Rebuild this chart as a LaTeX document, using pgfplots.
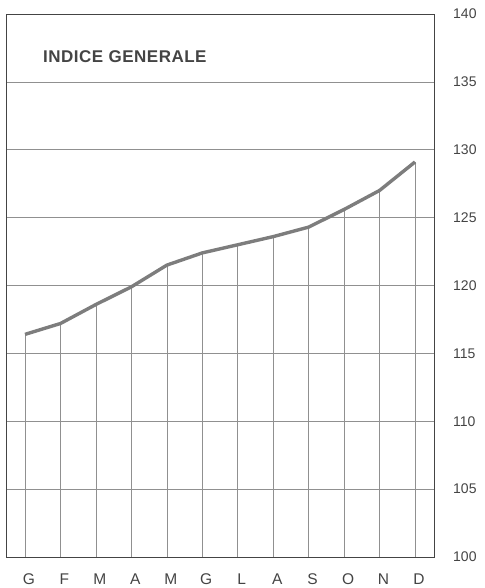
\documentclass[border=0pt]{standalone}
\usepackage{pgfplots}
\pgfplotsset{compat=1.18}
\usepackage{fontspec}
\setmainfont{Liberation Sans}
\definecolor{inkgray}{HTML}{444444}
\definecolor{linegray}{HTML}{7D7D7D}
\definecolor{gridgray}{HTML}{909090}
\begin{document}
\begin{tikzpicture}
\useasboundingbox (-6pt,-31pt) rectangle (478pt,557pt);
\begin{axis}[
  scale only axis,
  width=428pt, height=543pt,
  xmin=-0.536, xmax=11.536,
  ymin=100, ymax=140,
  ytick={100,105,...,140},
  xtick={0,...,11},
  xticklabels={G,F,M,A,M,G,L,A,S,O,N,D},
  yticklabel pos=right,
  major tick length=0pt,
  ymajorgrids,
  grid style={gridgray, line width=0.6pt},
  axis line style={inkgray, line width=0.9pt},
  /pgf/number format/assume math mode=true,
  yticklabel style={anchor=west, inner sep=0pt, xshift=19pt, font=\fontsize{14}{16}\selectfont, text=inkgray},
  xticklabel style={anchor=base, inner sep=0pt, yshift=-27pt, xshift=4pt, font=\fontsize{15.5}{17}\selectfont, text=inkgray},
]
\addplot[ycomb, gridgray, line width=0.6pt, mark=none] coordinates {
 (0,116.4) (1,117.2) (2,118.6) (3,119.9) (4,121.5) (5,122.4)
 (6,123.0) (7,123.6) (8,124.3) (9,125.6) (10,127.0) (11,129.1)};
\addplot[linegray, line width=3.4pt, mark=none] coordinates {
 (0,116.4) (1,117.2) (2,118.6) (3,119.9) (4,121.5) (5,122.4)
 (6,123.0) (7,123.6) (8,124.3) (9,125.6) (10,127.0) (11,129.1)};
\node[anchor=base west, inner sep=0pt, text=inkgray, font=\fontsize{17}{19}\selectfont\bfseries\addfontfeatures{LetterSpace=3}] at (rel axis cs:0.0864,0.9098) {INDICE GENERALE};
\end{axis}
\end{tikzpicture}
\end{document}
